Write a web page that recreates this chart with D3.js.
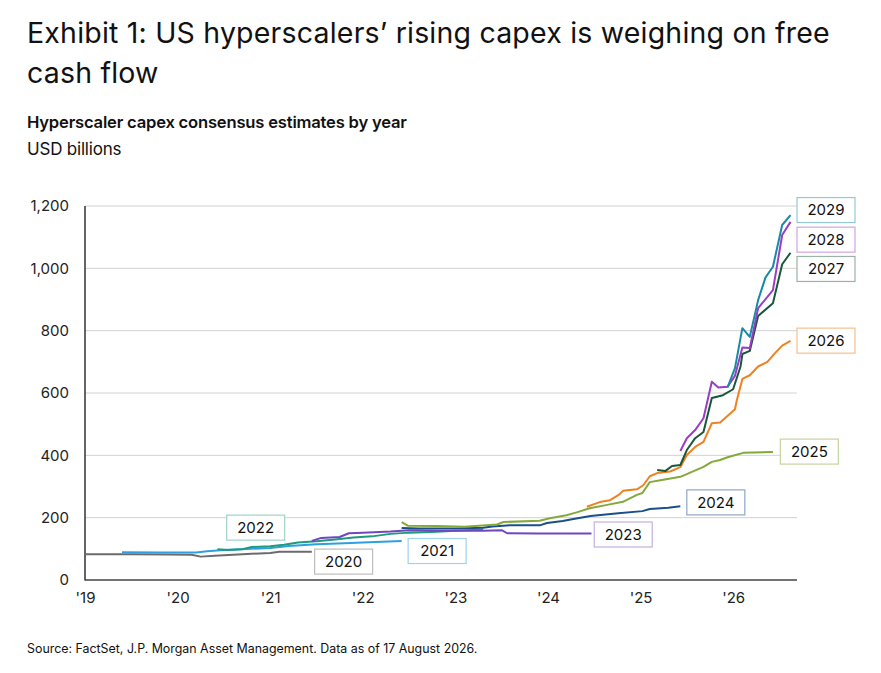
<!DOCTYPE html>
<html>
<head>
<meta charset="utf-8">
<script src="https://cdn.jsdelivr.net/npm/d3@7"></script>
<style>
  html, body { margin: 0; padding: 0; background: #fff; }
  svg { display: block; font-family: Inter, "Open Sans", sans-serif; }
</style>
</head>
<body>
<svg id="chart" width="881" height="673"></svg>
<script>
// ---- Data: [decimal year, USD billions] ----
const est2020 = [[2019.0,83],[2019.5,83],[2019.9,82],[2020.15,81],[2020.25,75],[2020.4,78],[2020.55,80],[2020.8,84],[2021.0,87],[2021.1,91],[2021.45,91]];
const est2021 = [[2019.4,89],[2019.8,88],[2020.2,88],[2020.32,92],[2020.5,96],[2020.8,100],[2021.0,103],[2021.2,109],[2021.5,115],[2021.8,118],[2022.0,120],[2022.42,125]];
const est2022 = [[2020.43,99],[2020.55,96],[2020.7,99],[2020.8,106],[2021.0,108],[2021.15,113],[2021.3,120],[2021.5,124],[2021.7,130],[2021.9,136],[2022.1,140],[2022.3,148],[2022.5,152],[2022.8,155],[2023.0,158],[2023.3,162]];
const est2023 = [[2021.45,125],[2021.55,135],[2021.75,138],[2021.85,150],[2022.0,152],[2022.3,156],[2022.5,160],[2022.8,158],[2023.0,158],[2023.3,158],[2023.5,160],[2023.56,150],[2023.9,149],[2024.2,149],[2024.47,149]];
const est2024 = [[2022.42,167],[2022.6,165],[2023.0,165],[2023.3,168],[2023.4,172],[2023.6,176],[2023.92,176],[2023.99,183],[2024.16,189],[2024.26,195],[2024.46,205],[2024.76,214],[2025.02,221],[2025.1,228],[2025.3,232],[2025.43,237]];
const est2025 = [[2022.42,186],[2022.49,174],[2022.8,173],[2023.1,171],[2023.45,178],[2023.52,186],[2023.91,190],[2024.02,198],[2024.2,208],[2024.31,217],[2024.45,230],[2024.64,241],[2024.81,251],[2024.96,273],[2025.02,279],[2025.1,314],[2025.23,321],[2025.43,331],[2025.68,363],[2025.77,379],[2025.86,385],[2025.94,394],[2026.11,408],[2026.43,411]];
const est2026 = [[2024.42,235],[2024.56,250],[2024.67,256],[2024.76,272],[2024.81,286],[2024.96,291],[2025.03,304],[2025.1,333],[2025.18,343],[2025.32,348],[2025.43,362],[2025.5,401],[2025.59,427],[2025.68,443],[2025.77,503],[2025.86,505],[2026.02,548],[2026.04,577],[2026.1,645],[2026.18,657],[2026.27,685],[2026.37,700],[2026.45,727],[2026.53,752],[2026.62,767]];
const est2027 = [[2025.18,353],[2025.27,350],[2025.34,366],[2025.43,369],[2025.5,417],[2025.59,455],[2025.68,475],[2025.77,584],[2025.89,593],[2026.0,612],[2026.08,685],[2026.1,725],[2026.18,735],[2026.27,847],[2026.43,888],[2026.53,1013],[2026.62,1050]];
const est2028 = [[2025.43,414],[2025.5,455],[2025.59,481],[2025.68,519],[2025.77,636],[2025.84,618],[2025.94,620],[2026.02,655],[2026.1,746],[2026.18,744],[2026.27,872],[2026.43,930],[2026.53,1107],[2026.62,1149]];
const est2029 = [[2025.94,618],[2026.02,680],[2026.1,808],[2026.18,780],[2026.27,898],[2026.35,971],[2026.43,1005],[2026.53,1139],[2026.62,1171]];

const seriesNames = ["2020","2021","2022","2023","2024","2025","2026","2027","2028","2029"];
const seriesValues = [est2020, est2021, est2022, est2023, est2024, est2025, est2026, est2027, est2028, est2029];
const yTicks = [0, 200, 400, 600, 800, 1000, 1200];
const xTicks = [2019, 2020, 2021, 2022, 2023, 2024, 2025, 2026];
const xTickLabels = ["'19","'20","'21","'22","'23","'24","'25","'26"];

// ---- Styles ----
const lineColors = ["#6b6b6b","#2e9fe0","#1f9a7b","#6f48c0","#1a4f8a","#84a83c","#ef8220","#17573a","#9c3cc4","#1889a8"];
const boxColors  = ["#bdbdbd","#9fd3ec","#9fd4c4","#c2b1e2","#8fa7c6","#c5d39e","#f4c08f","#99b3a6","#d3a3e6","#95c8d6"];
// label anchors in data space: [left-edge year, centre value]
const labelAnchors = [[2021.48,59],[2022.49,93],[2020.53,168],[2024.50,146],[2025.50,249],[2026.51,412],[2026.69,768],[2026.69,998],[2026.69,1092],[2026.69,1187]];

const svg = d3.select("#chart");
const pLeft = 85, pRight = 797, pTop = 206, pBottom = 580;

const x = d3.scaleLinear().domain([2019, 2026.69]).range([pLeft, pRight]);
const y = d3.scaleLinear().domain([0, 1200]).range([pBottom, pTop]);

// Title & subtitles
svg.append("text").attr("x", 27).attr("y", 43).attr("font-size", 28.5).attr("fill", "#111")
  .attr("letter-spacing", 0.2)
  .text("Exhibit 1: US hyperscalers’ rising capex is weighing on free");
svg.append("text").attr("x", 27).attr("y", 83).attr("font-size", 28.5).attr("fill", "#111")
  .attr("letter-spacing", 0.2)
  .text("cash flow");
svg.append("text").attr("x", 27).attr("y", 128).attr("font-size", 16.6).attr("font-weight", 600).attr("fill", "#111")
  .attr("letter-spacing", -0.2)
  .text("Hyperscaler capex consensus estimates by year");
svg.append("text").attr("x", 27).attr("y", 155).attr("font-size", 17).attr("fill", "#111")
  .attr("letter-spacing", -0.2)
  .text("USD billions");
svg.append("text").attr("x", 27).attr("y", 653).attr("font-size", 12.4).attr("fill", "#111")
  .text("Source: FactSet, J.P. Morgan Asset Management. Data as of 17 August 2026.");

// Gridlines
svg.append("g").selectAll("line").data(yTicks.filter(d => d > 0)).join("line")
  .attr("x1", pLeft).attr("x2", pRight)
  .attr("y1", d => y(d)).attr("y2", d => y(d))
  .attr("stroke", "#d2d2d2").attr("stroke-width", 1);

// Y axis
const yAxis = svg.append("g").attr("transform", `translate(${pLeft},0)`)
  .call(d3.axisLeft(y).tickValues(yTicks).tickSize(0).tickPadding(16).tickFormat(d3.format(",")));
yAxis.select(".domain").remove();
yAxis.selectAll("text").attr("font-size", 15).attr("fill", "#222").attr("font-family", "Inter, sans-serif");

// X axis
const xAxis = svg.append("g").attr("transform", `translate(0,${pBottom})`)
  .call(d3.axisBottom(x).tickValues(xTicks).tickSize(0).tickPadding(12).tickFormat((d, i) => xTickLabels[i]));
xAxis.select(".domain").remove();
xAxis.selectAll("text").attr("font-size", 15).attr("fill", "#222").attr("font-family", "Inter, sans-serif");

// Axis lines
svg.append("line").attr("x1", pLeft).attr("x2", pLeft).attr("y1", pTop).attr("y2", pBottom + 0.5)
  .attr("stroke", "#333").attr("stroke-width", 1.5);
svg.append("line").attr("x1", pLeft).attr("x2", pRight).attr("y1", pBottom).attr("y2", pBottom)
  .attr("stroke", "#444").attr("stroke-width", 1.5);

// Lines
const line = d3.line().x(d => x(d[0])).y(d => y(d[1]));
svg.append("g").selectAll("path").data(seriesValues).join("path")
  .attr("d", line)
  .attr("fill", "none")
  .attr("stroke", (d, i) => lineColors[i])
  .attr("stroke-width", 2)
  .attr("stroke-linejoin", "round");

// Labels
const boxW = 58, boxH = 25;
const lab = svg.append("g").selectAll("g").data(seriesNames).join("g")
  .attr("transform", (d, i) => `translate(${x(labelAnchors[i][0])},${y(labelAnchors[i][1])})`);
lab.append("rect").attr("x", 0).attr("y", -boxH / 2).attr("width", boxW).attr("height", boxH)
  .attr("fill", "#fff").attr("stroke", (d, i) => boxColors[i]).attr("stroke-width", 1.2);
lab.append("text").attr("x", boxW / 2).attr("y", 0).attr("dy", "0.36em")
  .attr("text-anchor", "middle").attr("font-size", 15).attr("fill", "#111")
  .text(d => d);
</script>
</body>
</html>
